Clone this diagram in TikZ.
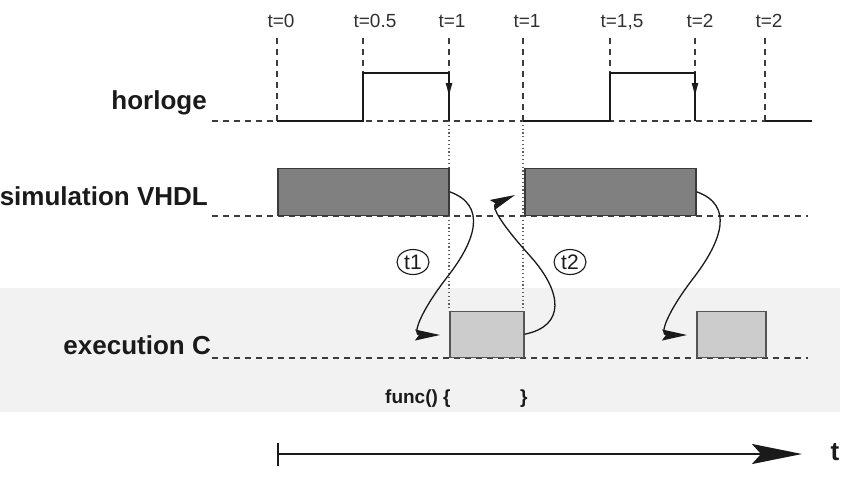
\documentclass[tikz,border=0pt]{standalone}
\usepackage{fontspec}
\setmainfont{Liberation Sans}
\usetikzlibrary{arrows.meta,shapes.geometric,calc}
\definecolor{band}{HTML}{F2F2F2}
\definecolor{darkbox}{HTML}{808080}
\definecolor{darkedge}{HTML}{3A3A3A}
\definecolor{lightbox}{HTML}{CCCCCC}
\definecolor{lightedge}{HTML}{555555}
\definecolor{ink}{HTML}{1A1A1A}
\tikzset{
  rowlabel/.style={font=\bfseries\fontsize{26}{30}\selectfont, text=ink, inner sep=0pt, anchor=base east},
  timelabel/.style={font=\fontsize{19}{22}\selectfont, text=ink!90, inner sep=0pt, anchor=base},
  baseline dash/.style={draw=ink!85, line width=1.1pt, dash pattern=on 6pt off 5pt},
  tick dash/.style={draw=ink!85, line width=1.1pt, dash pattern=on 6pt off 5pt},
  dotline/.style={draw=ink!70, line width=1.1pt, dash pattern=on 1.2pt off 2.6pt},
  clock/.style={draw=ink, line width=1.5pt},
  vbox/.style={draw=darkedge, fill=darkbox, line width=1.5pt, minimum width=171pt, minimum height=47pt, inner sep=0pt, anchor=south west},
  cbox/.style={draw=lightedge, fill=lightbox, line width=1.5pt, minimum height=46pt, inner sep=0pt, anchor=south west},
  hop/.style={draw=ink, line width=1.3pt, -{Stealth[length=25pt,width=11pt,inset=4pt]}},
  tag/.style={ellipse, draw=ink, line width=1.1pt, minimum width=32pt, minimum height=25pt, inner sep=0pt, font=\fontsize{21}{24}\selectfont, text=ink},
  codetext/.style={font=\bfseries\fontsize{19}{22}\selectfont, text=ink, inner sep=0pt, anchor=base west},
}
\begin{document}
\begin{tikzpicture}[x=1pt,y=-1pt]
\useasboundingbox (0,0) rectangle (849,477);
% band
\fill[band] (0,288) rectangle (840,412);

% row labels
\node[rowlabel] (lh) at (207,109) {horloge};
\node[rowlabel] (lv) at (208,205) {simulation VHDL};
\node[rowlabel] (lc) at (211,354) {execution C};

% time labels and ticks
\foreach \n/\x/\lx/\t in {a/277/281/t=0, b/363/375/t=0.5, c/449/452/t=1, d/523/527/t=1, e/610/622/{t=1,5}, f/695/700/t=2, g/765/769/t=2}{
  \node[timelabel] (tl\n) at (\lx,27) {\t};
  \coordinate (tt\n) at (\x,38);
  \coordinate (tb\n) at (\x,121);
  \draw[tick dash] (tt\n) -- (tb\n);
}

% baselines
\coordinate (hL) at (212,121); \coordinate (hR) at (812,121);
\coordinate (vL) at (212,216); \coordinate (vR) at (808,216);
\coordinate (cL) at (212,358); \coordinate (cR) at (808,358);
\draw[baseline dash] (hL) -- (hR);
\draw[baseline dash] (vL) -- (vR);
\draw[baseline dash] (cL) -- (cR);

% dotted guides
\coordinate (d1t) at (449,121); \coordinate (d1b) at (449,311);
\coordinate (d2t) at (523,121); \coordinate (d2b) at (523,311);
\draw[dotline] (d1t) -- (d1b);
\draw[dotline] (d2t) -- (d2b);

% clock
\draw[clock] (tba) -- (363,121) -- (363,73) -- (449,73) -- (tbc);
\draw[clock] (tbd) -- (610,121) -- (610,73) -- (695,73) -- (tbf);
\draw[clock] (tbg) -- (hR);
\draw[draw=ink, line width=1.5pt, -{Latex[length=15pt,width=7pt]}] (449,73) -- (449,98);
\draw[draw=ink, line width=1.5pt, -{Latex[length=15pt,width=7pt]}] (695,73) -- (695,98);

% boxes
\node[vbox] (vA) at (277,216) {};
\node[vbox] (vB) at (524,216) {};
\node[cbox, minimum width=74pt] (cA) at (449,358) {};
\node[cbox, minimum width=69pt] (cB) at (696,358) {};

% hops
\coordinate (e1) at (440,335);
\coordinate (e2) at (515,195);
\coordinate (e3) at (687,335);
\draw[hop] (vA.east) .. controls (487,205) and (476,240) .. (448,276) .. controls (420,312) and (412,335) .. (e1);
\draw[hop] (cA.east) .. controls (566,326) and (562,292) .. (531,257) .. controls (502,225) and (490,206) .. (e2);
\draw[hop] (vB.east) .. controls (734,205) and (722,240) .. (695,276) .. controls (667,312) and (659,335) .. (e3);

% tags
\node[tag] (t1) at (413,262) {t1};
\node[tag] (t2) at (570,262) {t2};

% code text
\node[codetext] (f1) at (385,403) {func() \{};
\node[codetext] (f2) at (520,403) {\}};

% time axis
\coordinate (a0) at (277,454);
\coordinate (a1) at (802,454);
\draw[draw=ink, line width=2.4pt, {Bar[width=23pt,line width=2.4pt]}-{Stealth[length=50pt,width=20pt,inset=9pt]}] (a0) -- (a1);
\node[font=\bfseries\fontsize{26}{30}\selectfont, text=ink, inner sep=0pt, anchor=base] (tlab) at (835,460) {t};
\end{tikzpicture}
\end{document}
